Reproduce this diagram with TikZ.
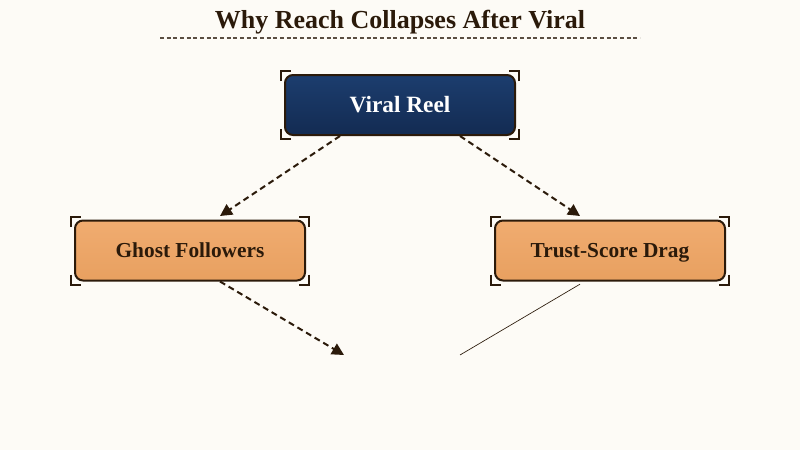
\documentclass[tikz,border=0pt]{standalone}
\usepackage{fontspec}
\setmainfont{Liberation Serif}
\usetikzlibrary{arrows.meta}
\definecolor{bg}{HTML}{FDFBF6}
\definecolor{ink}{HTML}{2B1A0A}
\definecolor{navytop}{HTML}{1C3D6E}
\definecolor{navybot}{HTML}{132B52}
\definecolor{orgtop}{HTML}{F0AC70}
\definecolor{orgbot}{HTML}{E8A060}
\definecolor{rule}{HTML}{5A4E42}
\tikzset{
  box/.style={rectangle, rounded corners=6pt, draw=ink, line width=1.5pt,
    minimum width=172.5pt, minimum height=45pt, text height=10.6pt, text depth=0pt,
    font=\bfseries\fontsize{16}{19}\selectfont},
  navybox/.style={box, top color=navytop, bottom color=navybot, text=white},
  orgbox/.style={box, top color=orgtop, bottom color=orgbot, text=ink},
  brk/.style={draw=ink, line width=1.5pt},
  flow/.style={draw=ink, line width=1.5pt, dash pattern=on 4.5pt off 3pt, -{Triangle[length=9pt,width=9pt]}},
  thin/.style={draw=ink, line width=0.5pt},
}
\newcommand{\cornermarks}[1]{%
  \draw[brk] ([xshift=-2.25pt,yshift=-5.25pt]#1.north west) -- ++(0,7.5pt) -- ++(7.5pt,0);
  \draw[brk] ([xshift=2.25pt,yshift=-5.25pt]#1.north east) -- ++(0,7.5pt) -- ++(-7.5pt,0);
  \draw[brk] ([xshift=-2.25pt,yshift=5.25pt]#1.south west) -- ++(0,-7.5pt) -- ++(7.5pt,0);
  \draw[brk] ([xshift=2.25pt,yshift=5.25pt]#1.south east) -- ++(0,-7.5pt) -- ++(-7.5pt,0);
}
\begin{document}
\begin{tikzpicture}[x=0.75pt,y=-0.75pt]
\fill[bg] (0,0) rectangle (800,450);
\useasboundingbox (0,0) rectangle (800,450);
\node[text=ink, text height=13pt, text depth=0pt, font=\bfseries\fontsize{19.5}{23}\selectfont] (title) at (400,19.5) {Why Reach Collapses After Viral};
\coordinate (rl) at (160,38);
\coordinate (rr) at (640,38);
\draw[rule, line width=0.9pt, dash pattern=on 3pt off 2pt] (rl) -- (rr);
\node[navybox, text height=11.6pt, font=\bfseries\fontsize{17.5}{21}\selectfont] (viral) at (400,105) {Viral Reel};
\node[orgbox] (ghost) at (190,250.5) {Ghost Followers};
\node[orgbox] (trust) at (610,250.5) {Trust-Score Drag};
\cornermarks{viral}
\cornermarks{ghost}
\cornermarks{trust}
\coordinate (e1) at (344,355);
\coordinate (e2) at (460,355);
\draw[flow] ([xshift=-45pt]viral.south) -- ([xshift=-135pt,yshift=-60pt]viral.south);
\draw[flow] ([xshift=45pt]viral.south) -- ([xshift=135pt,yshift=-60pt]viral.south);
\draw[flow] ([xshift=22.5pt]ghost.south) -- (e1);
\draw[thin] ([xshift=-22.5pt,yshift=-2pt]trust.south) -- (e2);
\end{tikzpicture}
\end{document}
